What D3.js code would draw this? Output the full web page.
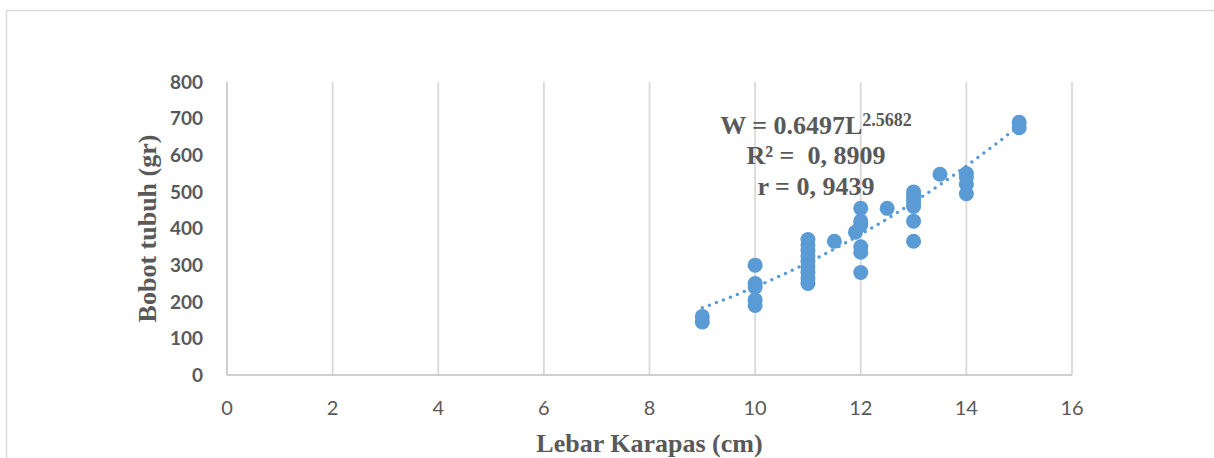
<!DOCTYPE html>
<html>
<head>
<meta charset="utf-8">
<script src="https://cdn.jsdelivr.net/npm/d3@7"></script>
<style>
  body { margin: 0; background: #fff; }
  svg { display: block; }
</style>
</head>
<body>
<script>
    // lebar karapas (cm) vs bobot tubuh (gr)
    var lebar = [9, 9,
        10, 10, 10, 10, 10,
        11, 11, 11, 11, 11, 11, 11, 11, 11,
        11.5, 11.9,
        12, 12, 12, 12, 12, 12,
        12.5,
        13, 13, 13, 13, 13, 13, 13,
        13.5,
        14, 14, 14, 14,
        15, 15];
    var bobot = [160, 145,
        300, 250, 240, 205, 190,
        370, 355, 340, 325, 310, 295, 280, 265, 250,
        365, 390,
        455, 420, 410, 350, 335, 280,
        455,
        500, 490, 480, 470, 460, 420, 365,
        548,
        550, 540, 520, 495,
        690, 675];

    var xTicks = [0, 2, 4, 6, 8, 10, 12, 14, 16];
    var yTicks = [0, 100, 200, 300, 400, 500, 600, 700, 800];

    // power trendline W = a * L^b
    var COEF_A = 0.6497, COEF_B = 2.5682;
    var TREND_FROM = 9, TREND_TO = 15;

    var BLUE = '#5B9BD5',
        TEXT = '#595959',
        GRID = '#d9d9d9';

    var width = 1214, height = 458;
    var svg = d3.select('body').append('svg')
        .attr('width', width)
        .attr('height', height);

    // chart frame
    svg.append('path')
        .attr('d', 'M6.5,' + height + 'V10.5H' + width)
        .attr('fill', 'none')
        .attr('stroke', GRID)
        .attr('stroke-width', 1.5);

    var x = d3.scaleLinear().domain([0, 16]).range([227, 1072]);
    var y = d3.scaleLinear().domain([0, 800]).range([375, 82]);

    // vertical gridlines
    svg.selectAll('.grid')
        .data(xTicks.slice(1))
        .enter()
        .append('line')
        .attr('class', 'grid')
        .attr('x1', function (d) { return x(d); })
        .attr('x2', function (d) { return x(d); })
        .attr('y1', y(800))
        .attr('y2', y(0))
        .attr('stroke', GRID)
        .attr('stroke-width', 1.8);

    // axis lines
    svg.append('line')
        .attr('x1', x(0)).attr('x2', x(0))
        .attr('y1', y(800)).attr('y2', y(0))
        .attr('stroke', '#bfbfbf').attr('stroke-width', 1.5);
    svg.append('line')
        .attr('x1', x(0)).attr('x2', x(16))
        .attr('y1', y(0)).attr('y2', y(0))
        .attr('stroke', '#bfbfbf').attr('stroke-width', 1.5);

    // tick labels
    svg.selectAll('.xlab')
        .data(xTicks)
        .enter()
        .append('text')
        .attr('class', 'xlab')
        .attr('x', function (d) { return x(d); })
        .attr('y', 415)
        .attr('text-anchor', 'middle')
        .style('font-family', 'Lato, "Open Sans", sans-serif')
        .style('font-size', '20px')
        .style('fill', TEXT)
        .text(function (d) { return d; });

    svg.selectAll('.ylab')
        .data(yTicks)
        .enter()
        .append('text')
        .attr('class', 'ylab')
        .attr('x', 203)
        .attr('y', function (d) { return y(d); })
        .attr('dy', '0.36em')
        .attr('text-anchor', 'end')
        .style('font-family', 'Lato, "Open Sans", sans-serif')
        .style('font-weight', 'bold')
        .style('font-size', '19px')
        .style('fill', TEXT)
        .text(function (d) { return d; });

    // axis titles
    svg.append('text')
        .attr('x', (x(0) + x(16)) / 2)
        .attr('y', 452)
        .attr('text-anchor', 'middle')
        .style('font-family', '"Liberation Serif", "Times New Roman", serif')
        .style('font-weight', 'bold')
        .style('font-size', '26px')
        .style('fill', TEXT)
        .text('Lebar Karapas (cm)');

    svg.append('text')
        .attr('transform', 'translate(156,' + (y(0) + y(800)) / 2 + ') rotate(-90)')
        .attr('text-anchor', 'middle')
        .style('font-family', '"Liberation Serif", "Times New Roman", serif')
        .style('font-weight', 'bold')
        .style('font-size', '26px')
        .style('fill', TEXT)
        .text('Bobot tubuh (gr)');

    // points
    svg.selectAll('.dot')
        .data(lebar)
        .enter()
        .append('circle')
        .attr('class', 'dot')
        .attr('cx', function (d) { return x(d); })
        .attr('cy', function (d, i) { return y(bobot[i]); })
        .attr('r', 7.5)
        .style('fill', BLUE);

    // trendline
    var trend = d3.range(TREND_FROM, TREND_TO + 0.001, 0.05).map(function (l) {
        return [l, COEF_A * Math.pow(l, COEF_B)];
    });
    var line = d3.line()
        .x(function (d) { return x(d[0]); })
        .y(function (d) { return y(d[1]); });
    svg.append('path')
        .datum(trend)
        .attr('d', line)
        .attr('fill', 'none')
        .attr('stroke', BLUE)
        .attr('stroke-width', 3.5)
        .attr('stroke-linecap', 'round')
        .attr('stroke-dasharray', '0,7.5');

    // equation label
    var eq = svg.append('text')
        .attr('text-anchor', 'middle')
        .style('white-space', 'pre')
        .style('font-family', '"Liberation Serif", "Times New Roman", serif')
        .style('font-weight', 'bold')
        .style('font-size', '26px')
        .style('fill', TEXT);
    var l1 = eq.append('tspan').attr('x', 816).attr('y', 134);
    l1.append('tspan').text('W = 0.6497L');
    l1.append('tspan').attr('dy', -8).style('font-size', '18px').text('2.5682');
    eq.append('tspan').attr('x', 816).attr('y', 164).text('R\u00b2 =  0, 8909');
    eq.append('tspan').attr('x', 816).attr('y', 195).text('r = 0, 9439');
</script>
</body>
</html>
